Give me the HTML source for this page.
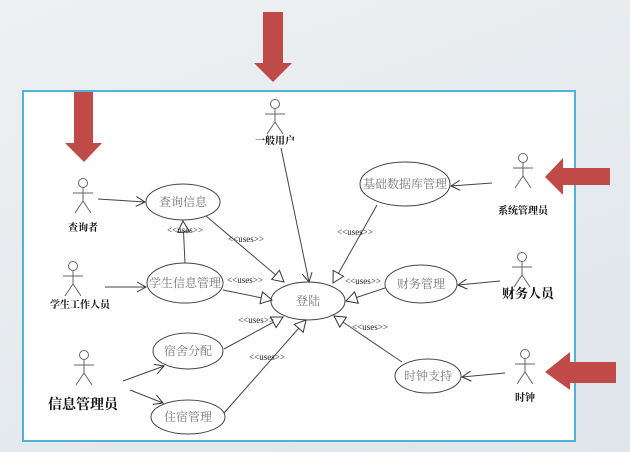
<!DOCTYPE html><html><head><meta charset="utf-8"><style>
html,body{margin:0;padding:0;width:630px;height:452px;overflow:hidden;background:linear-gradient(160deg,#eef1f3,#dfe5ea);}
svg{display:block}
text{font-family:"Liberation Serif","Noto Serif CJK SC",serif;}
.u{font-size:9px;fill:#222;font-family:"Liberation Sans",sans-serif;}
.c{font-size:12px;fill:#777;}
.a{font-size:10px;font-weight:bold;fill:#111;font-family:"Liberation Sans","Noto Sans CJK SC",sans-serif;}
</style></head><body>
<svg width="630" height="452" viewBox="0 0 630 452">
<defs>
<marker id="o" markerWidth="12" markerHeight="12" refX="10" refY="6" orient="auto" markerUnits="userSpaceOnUse"><path d="M1,1 L10,6 L1,11" fill="none" stroke="#333" stroke-width="1"/></marker>
<marker id="t" markerWidth="14" markerHeight="14" refX="12" refY="7" orient="auto" markerUnits="userSpaceOnUse"><path d="M1,1 L12,7 L1,13 Z" fill="#fff" stroke="#333" stroke-width="1"/></marker>
</defs>
<rect x="23" y="91" width="552" height="350" fill="#fff" stroke="#4fb3d9" stroke-width="2"/>
<g fill="#fff" stroke="#444" stroke-width="1">
<ellipse cx="183" cy="202" rx="37" ry="18"/>
<ellipse cx="185" cy="283" rx="38" ry="20"/>
<ellipse cx="308" cy="301" rx="37" ry="19"/>
<ellipse cx="188" cy="351" rx="35" ry="18"/>
<ellipse cx="188" cy="417" rx="37" ry="17"/>
<ellipse cx="405" cy="184" rx="45" ry="22"/>
<ellipse cx="421" cy="284" rx="36" ry="19"/>
<ellipse cx="428" cy="376" rx="33" ry="17"/>
</g>
<g class="c" text-anchor="middle">
<text x="183" y="206">查询信息</text><text x="185" y="287">学生信息管理</text><text x="308" y="305">登陆</text>
<text x="188" y="355">宿舍分配</text><text x="188" y="421">住宿管理</text><text x="405" y="188">基础数据库管理</text>
<text x="421" y="288">财务管理</text><text x="428" y="380">时钟支持</text>
</g>
<g stroke="#444" stroke-width="1" fill="none" marker-end="url(#o)">
<line x1="98" y1="199" x2="145" y2="202"/><line x1="105" y1="287" x2="146" y2="287"/>
<line x1="123" y1="381" x2="164" y2="366"/><line x1="130" y1="390" x2="163" y2="403"/>
<line x1="492" y1="183" x2="451" y2="186"/><line x1="500" y1="281" x2="458" y2="285"/>
<line x1="505" y1="373" x2="462" y2="377"/><line x1="281" y1="148" x2="309" y2="282"/>
</g>
<g stroke="#444" stroke-width="1" fill="none" marker-end="url(#t)">
<line x1="185" y1="263" x2="183" y2="221"/><line x1="206" y1="216" x2="284" y2="282"/>
<line x1="223" y1="290" x2="272" y2="300"/><line x1="224" y1="349" x2="283" y2="317"/>
<line x1="224" y1="413" x2="306" y2="320"/><line x1="377" y1="205" x2="333" y2="283"/>
<line x1="385" y1="288" x2="346" y2="301"/><line x1="402" y1="362" x2="334" y2="316"/>
</g>
<g class="u" text-anchor="middle">
<text x="185" y="233">&lt;&lt;uses&gt;&gt;</text><text x="246" y="242">&lt;&lt;uses&gt;&gt;</text>
<text x="245" y="283">&lt;&lt;uses&gt;&gt;</text><text x="256" y="323">&lt;&lt;uses&gt;&gt;</text>
<text x="267" y="360">&lt;&lt;uses&gt;&gt;</text><text x="355" y="235">&lt;&lt;uses&gt;&gt;</text>
<text x="363" y="284">&lt;&lt;uses&gt;&gt;</text><text x="370" y="330">&lt;&lt;uses&gt;&gt;</text>
</g>
<g stroke="#666" stroke-width="1" fill="#fff">
<g transform="translate(83,183)"><circle r="4.5"/><path d="M0,4.5V18M-10,10H10M0,18L-8,30M0,18L8,30" fill="none"/></g>
<g transform="translate(73,266)"><circle r="4.5"/><path d="M0,4.5V18M-10,10H10M0,18L-8,30M0,18L8,30" fill="none"/></g>
<g transform="translate(84,355)"><circle r="4.5"/><path d="M0,4.5V18M-10,10H10M0,18L-8,30M0,18L8,30" fill="none"/></g>
<g transform="translate(275,104)"><circle r="4.5"/><path d="M0,4.5V18M-10,10H10M0,18L-8,30M0,18L8,30" fill="none"/></g>
<g transform="translate(523,158)"><circle r="4.5"/><path d="M0,4.5V18M-10,10H10M0,18L-8,30M0,18L8,30" fill="none"/></g>
<g transform="translate(522,257)"><circle r="4.5"/><path d="M0,4.5V18M-10,10H10M0,18L-8,30M0,18L8,30" fill="none"/></g>
<g transform="translate(525,354)"><circle r="4.5"/><path d="M0,4.5V18M-10,10H10M0,18L-8,30M0,18L8,30" fill="none"/></g>
</g>
<g class="a" text-anchor="middle">
<text x="83" y="231">查询者</text><text x="80" y="308">学生工作人员</text>
<text x="83" y="409" style="font-size:14px">信息管理员</text><text x="275" y="144">一般用户</text>
<text x="523" y="214">系统管理员</text><text x="528" y="298" style="font-size:13px">财务人员</text>
<text x="525" y="401">时钟</text>
</g>
<g fill="#bf4a48">
<path d="M263,12H283V63H292L273,82L254,63H263Z"/>
<path d="M74,92H93V143H102L84,162L65,143H74Z"/>
<path d="M545,177L563,158V168H610V185H563V195Z"/>
<path d="M545,372L570,352V362H616V383H570V390Z"/>
</g>
</svg>
</body></html>
